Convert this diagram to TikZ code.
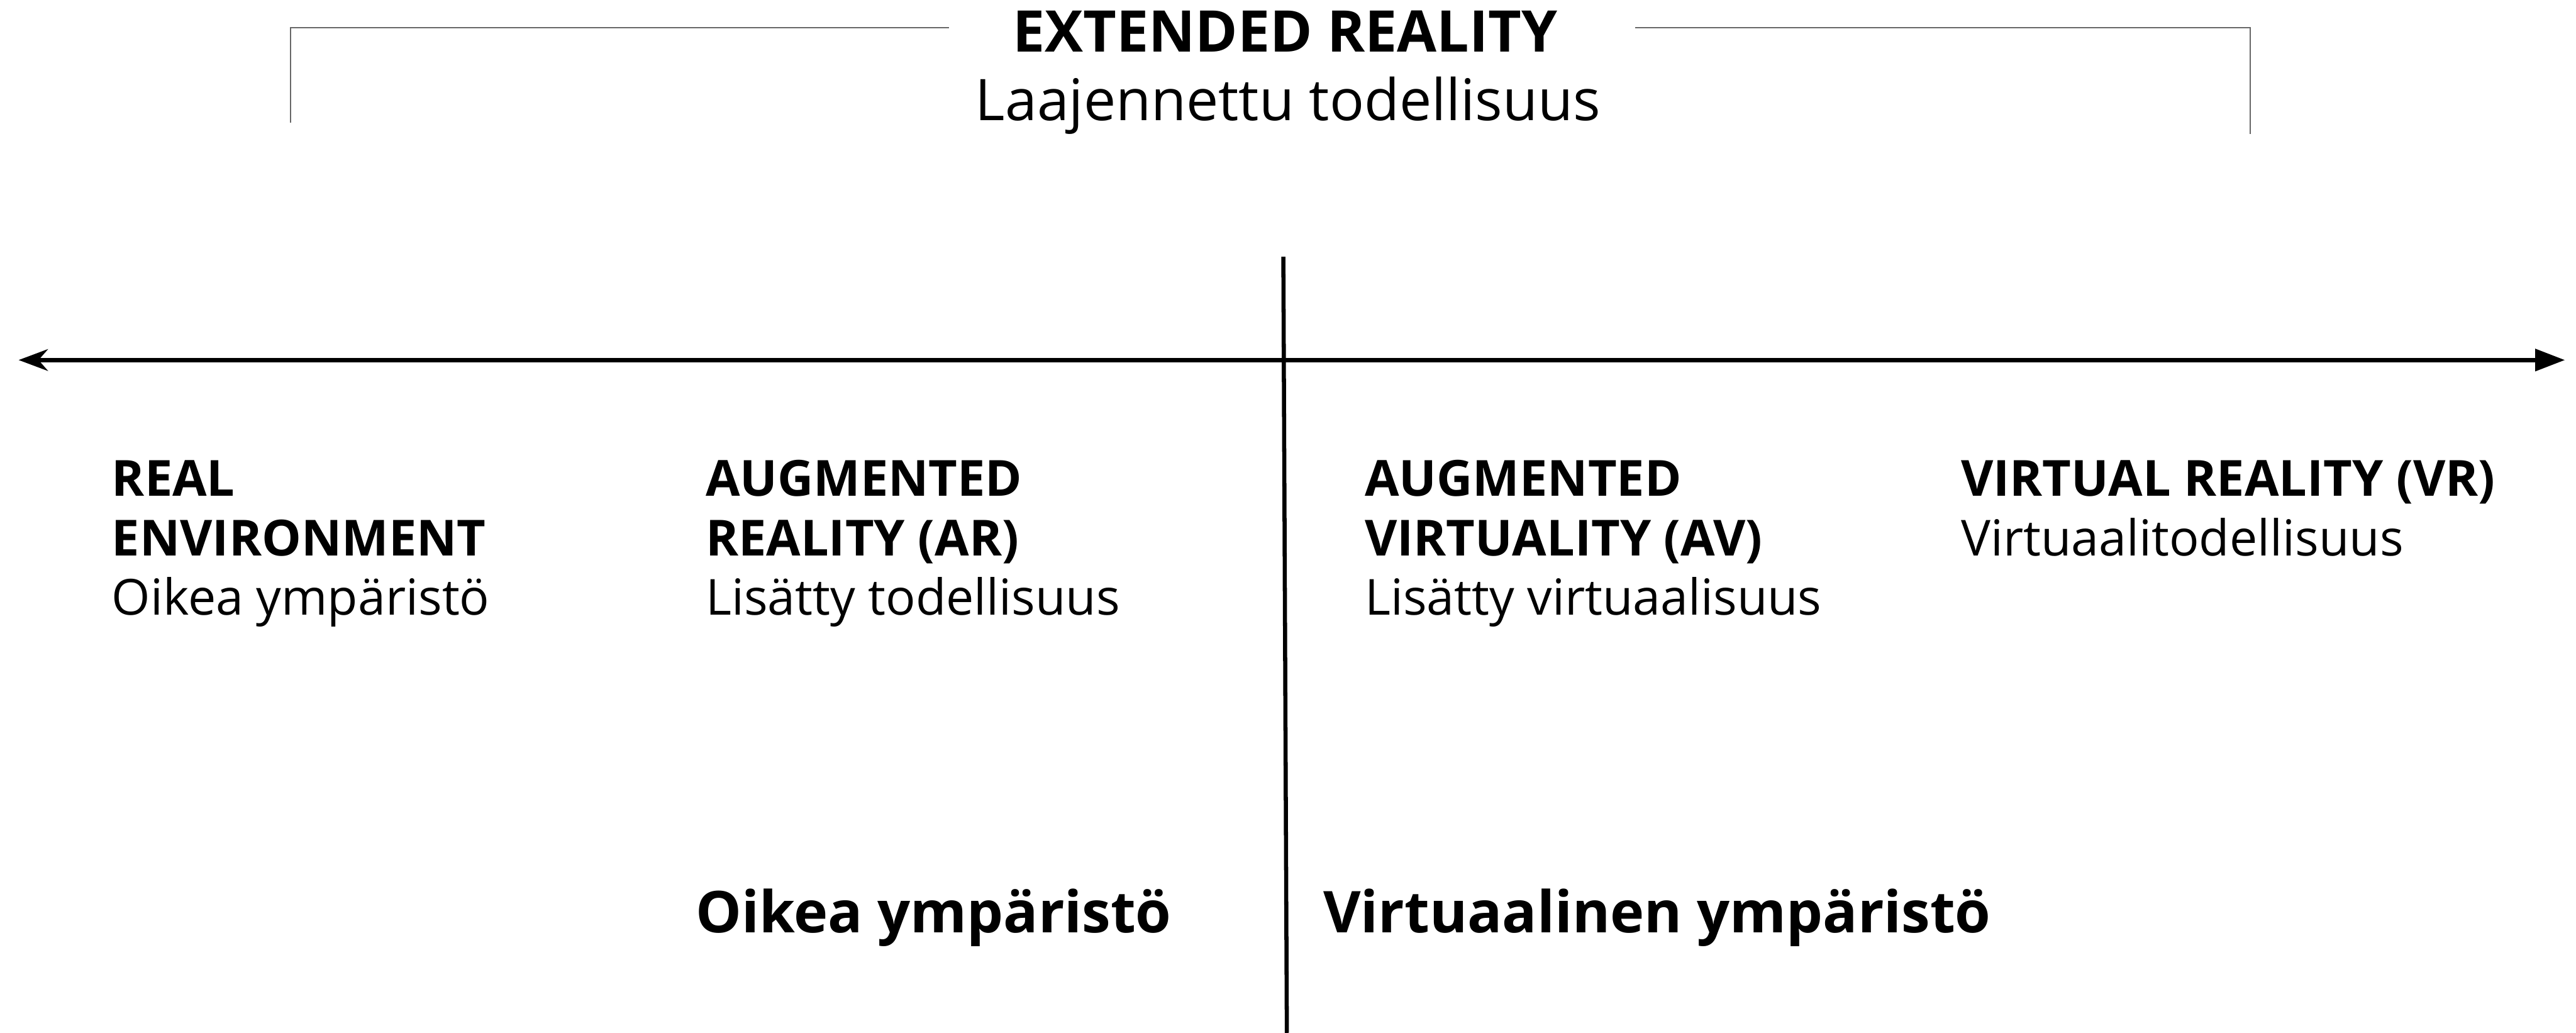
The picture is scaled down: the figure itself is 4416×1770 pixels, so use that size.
\documentclass[tikz,border=0pt]{standalone}
\usepackage{fontspec}
\setmainfont{Open Sans}
\usetikzlibrary{arrows.meta}

\tikzset{
  heading/.style={inner sep=0pt, font=\bfseries\fontsize{24.25}{30}\selectfont},
  plain/.style={inner sep=0pt, font=\fontsize{24.2}{30}\selectfont},
  titlebold/.style={inner sep=0pt, font=\bfseries\fontsize{28}{34}\selectfont},
  titleplain/.style={inner sep=0pt, font=\fontsize{28}{34}\selectfont},
  sidelabel/.style={inner sep=0pt, font=\bfseries\fontsize{28.1}{34}\selectfont},
  bracketline/.style={draw=black!60, line width=0.6pt},
  axisline/.style={line width=2pt, black},
}

\begin{document}
\begin{tikzpicture}[x=0.01cm, y=-0.01cm]
  \useasboundingbox (0,0) rectangle (4416,1770);

  % title
  \node[titlebold, anchor=base] (xr) at (2203,89) {EXTENDED REALITY};
  \node[titleplain, anchor=base] (xrfi) at (2208,207) {Laajennettu todellisuus};

  % bracket over the whole spectrum
  \coordinate (bl1) at (498,210);
  \coordinate (bl2) at (498,47);
  \coordinate (bl3) at (1627,47);
  \coordinate (br1) at (2803,47);
  \coordinate (br2) at (3857,47);
  \coordinate (br3) at (3857,230);
  \draw[bracketline] (bl1) -- (bl2) -- (bl3);
  \draw[bracketline] (br1) -- (br2) -- (br3);

  % spectrum axis
  \coordinate (axl) at (32,617);
  \coordinate (axr) at (4397,617);
  \draw[axisline, {Stealth[length=0.5cm, width=0.37cm, inset=0.16cm]}-{Triangle[length=0.51cm, width=0.37cm]}] (axl) -- (axr);

  % divider between real and virtual
  \coordinate (dvt) at (2200,440);
  \coordinate (dvb) at (2206,1770);
  \draw[axisline] (dvt) -- (dvb);

  % categories
  \node[heading, anchor=base west] (re1) at (191,850) {REAL};
  \node[heading, anchor=base west] (re2) at (191,952) {ENVIRONMENT};
  \node[plain, anchor=base west] (re3) at (191,1054) {Oikea ympäristö};

  \node[heading, anchor=base west] (ar1) at (1209,850) {AUGMENTED};
  \node[heading, anchor=base west] (ar2) at (1209,952) {REALITY (AR)};
  \node[plain, anchor=base west] (ar3) at (1209,1054) {Lisätty todellisuus};

  \node[heading, anchor=base west] (av1) at (2339,850) {AUGMENTED};
  \node[heading, anchor=base west] (av2) at (2339,952) {VIRTUALITY (AV)};
  \node[plain, anchor=base west] (av3) at (2339,1054) {Lisätty virtuaalisuus};

  \node[heading, anchor=base west] (vr1) at (3361,850) {VIRTUAL REALITY (VR)};
  \node[plain, anchor=base west] (vr2) at (3361,952) {Virtuaalitodellisuus};

  % sides of the divider
  \node[sidelabel, anchor=base west] (realside) at (1192,1598) {Oikea ympäristö};
  \node[sidelabel, anchor=base west] (virtside) at (2268,1598) {Virtuaalinen ympäristö};
\end{tikzpicture}
\end{document}
